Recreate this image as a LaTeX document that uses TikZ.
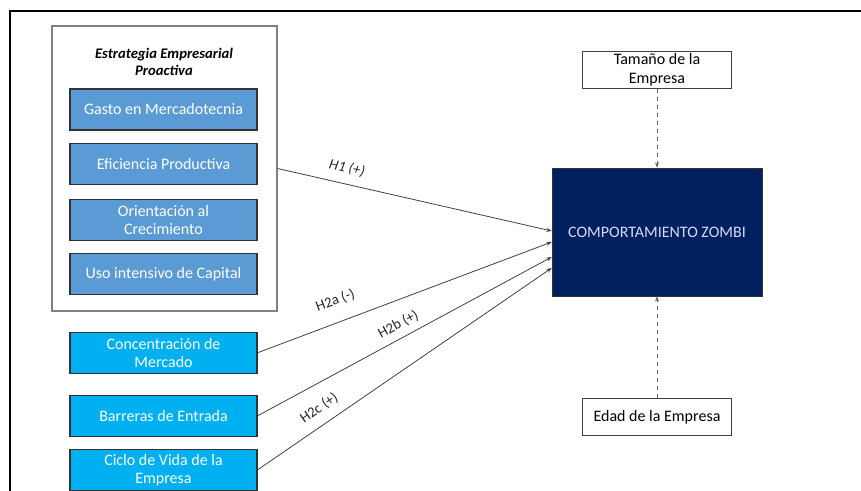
\documentclass[tikz,border=0pt]{standalone}
\usepackage{fontspec}
\setmainfont{Carlito}
\usetikzlibrary{positioning,arrows.meta,calc}
\definecolor{estblue}{RGB}{91,155,213}
\definecolor{mktcyan}{RGB}{0,176,240}
\definecolor{zmnavy}{RGB}{0,32,96}
\tikzset{
  est/.style={draw=black!80, fill=estblue, text=white, font=\fontsize{12}{13.5}\selectfont, align=center, minimum width=140.25pt, minimum height=30.75pt, inner sep=1pt, line width=0.8pt},
  mkt/.style={est, fill=mktcyan},
  frm/.style={draw=black!50, line width=0.9pt, minimum width=168.75pt, minimum height=213.75pt, inner sep=0pt},
  ttl/.style={font=\fontsize{11}{12.75}\selectfont\bfseries\itshape, align=center, inner sep=1pt},
  ctl/.style={draw=black!75, fill=white, font=\fontsize{12}{14}\selectfont, align=center, minimum width=111.75pt, minimum height=27.75pt, inner sep=1pt, line width=0.7pt},
  zmb/.style={draw=black!80, fill=zmnavy, text=white!85!blue, font=\fontsize{12}{13.5}\selectfont, minimum width=157.5pt, minimum height=96pt, inner sep=1pt},
  hl/.style={-{Stealth[length=4pt,width=3pt]}, black!75, line width=0.6pt},
  ml/.style={hl, dashed, black!60},
  lbl/.style={font=\fontsize{11}{12}\selectfont, text=black!85, sloped, inner sep=1pt},
}
\begin{document}
\begin{tikzpicture}[x=0.75pt, y=-0.75pt]
\useasboundingbox (0,0) rectangle (861,491);
\draw[line width=1.2pt] (10,491) |- (861,11);
% estrategia
\node[frm] (est) at (164.5,168.5) {};
\node[ttl] (tit) at (164,61.5) {Estrategia Empresarial\\Proactiva};
\node[est] (gm) at (163.5,109.5) {Gasto en Mercadotecnia};
\node[est, below=9.5pt of gm] (ep) {Eficiencia Productiva};
\node[est, below=10pt of ep] (oc) {Orientación al\\Crecimiento};
\node[est, below=9.5pt of oc] (ui) {Uso intensivo de Capital};
% mercado
\node[mkt, below=27.25pt of ui] (cm) {Concentración de\\Mercado};
\node[mkt, below=15.75pt of cm] (be) {Barreras de Entrada};
\node[mkt, below=9pt of be] (cv) {Ciclo de Vida de la\\Empresa};
% dependiente y controles
\node[zmb] (zm) at (657,232) {COMPORTAMIENTO ZOMBI};
\node[ctl, above=59.25pt of zm] (tm) {Tamaño de la\\Empresa};
\node[ctl, below=76.5pt of zm] (ed) {Edad de la Empresa};
\draw[hl] (est.east) -- node[lbl, font=\fontsize{11}{12}\selectfont\itshape, above=6pt, pos=.24] {H1 (+)} ($(zm.west)+(0,-1)$);
\draw[hl] (cm.east) -- node[lbl, above=10pt, pos=.29] {H2a (-)} ($(zm.west)+(0,10)$);
\draw[hl] (be.east) -- node[lbl, above=4pt, pos=.5] {H2b (+)} ($(zm.west)+(0,25)$);
\draw[hl] (cv.east) -- node[lbl, above=6pt, pos=.24] {H2c (+)} ($(zm.west)+(0,36)$);
\draw[ml] (tm) -- (zm);
\draw[ml] (ed) -- (zm);
\end{tikzpicture}
\end{document}
